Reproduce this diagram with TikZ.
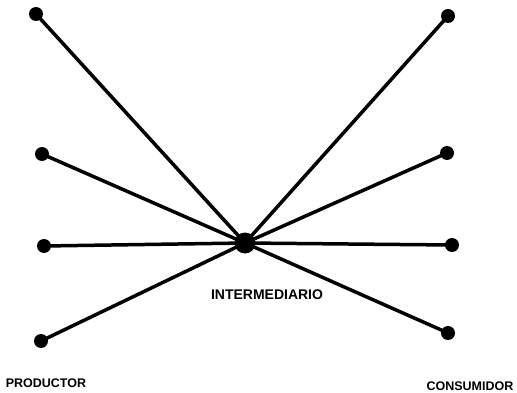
\documentclass[tikz,border=0pt]{standalone}
\usepackage{fontspec}
\setmainfont{Liberation Sans}

\begin{document}
\begin{tikzpicture}[x=1pt,y=-1pt,
    punto/.style={circle,fill=black,inner sep=0pt,minimum size=14pt},
    centro/.style={circle,fill=black,inner sep=0pt,minimum size=21pt},
    enlace/.style={line width=3.5pt},
    rotulo/.style={font=\bfseries\fontsize{14}{14}\selectfont,inner sep=0pt},
    extremo/.style={rotulo,font=\bfseries\fontsize{12.5}{12.5}\selectfont}]
      \useasboundingbox (0,0) rectangle (517,393);

      % 1. Intermediario (centro)
      \node[centro] (inter) at (245,243) {};
      \node[rotulo] (tinter) at (267,295) {INTERMEDIARIO};

      % 2. Productores (izquierda)
      \node[punto] (p1) at (36,14) {};
      \node[punto] (p2) at (42,154) {};
      \node[punto] (p3) at (44,246) {};
      \node[punto] (p4) at (41,341) {};

      % 3. Consumidores (derecha)
      \node[punto] (c1) at (448,16) {};
      \node[punto] (c2) at (447,153) {};
      \node[punto] (c3) at (452,245) {};
      \node[punto] (c4) at (448,333) {};

      % 4. Enlaces hacia el intermediario
      \foreach \n in {p1,p2,p3,p4,c1,c2,c3,c4}
        \draw[enlace] (\n.center) -- (inter.center);

      % Rotulos
      \node[extremo] (tprod) at (46,383.5) {PRODUCTOR};
      \node[extremo] (tcons) at (470,386) {CONSUMIDOR};
    \end{tikzpicture}
\end{document}
